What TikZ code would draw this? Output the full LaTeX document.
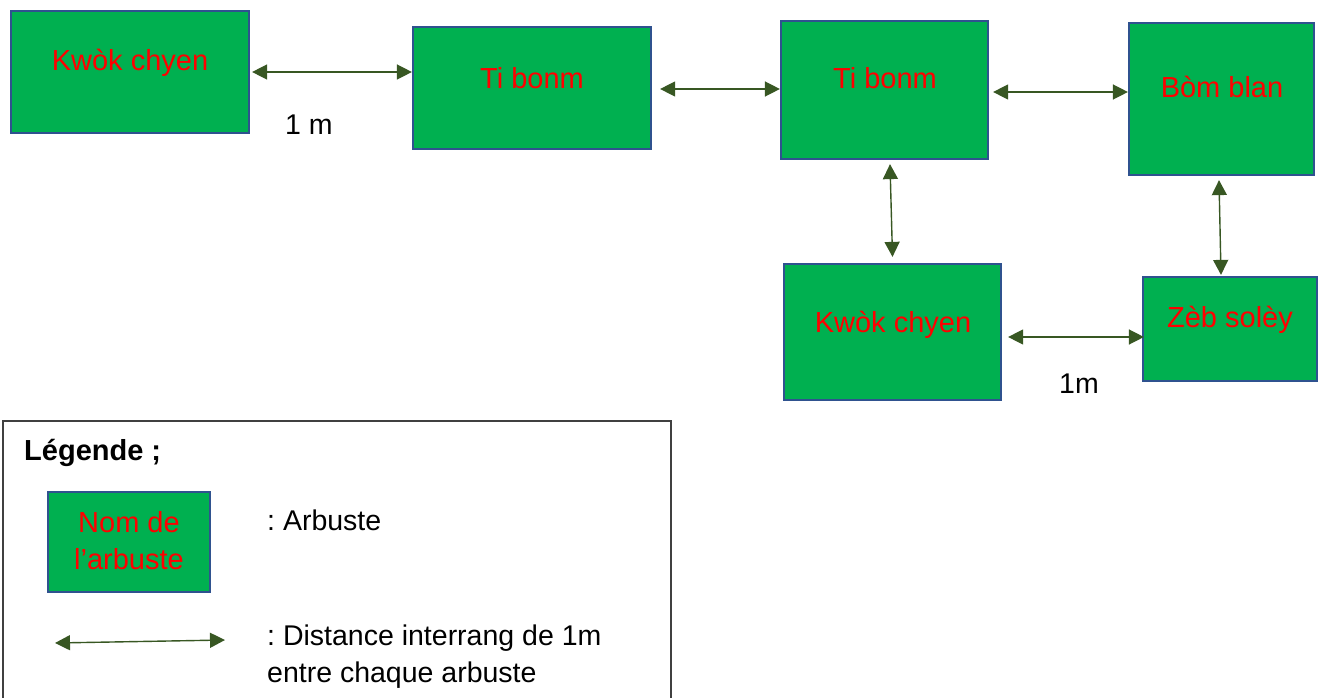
\documentclass[tikz,border=0pt]{standalone}
\usepackage{fontspec}
\setmainfont{Liberation Sans}
\usetikzlibrary{arrows.meta}
\definecolor{shrubgreen}{HTML}{00B050}
\definecolor{shrubedge}{HTML}{2F528F}
\definecolor{arrowgreen}{HTML}{385723}
\definecolor{framegray}{HTML}{404040}
\frenchspacing

\begin{document}
\begin{tikzpicture}[x=1pt,y=-1pt,
  shrub/.style={rectangle, draw=shrubedge, fill=shrubgreen, line width=2.2pt, inner sep=0pt},
  shrubname/.style={text=red, anchor=base, inner sep=0pt, font=\fontsize{29}{35}\selectfont},
  note/.style={anchor=base west, inner sep=0pt, font=\fontsize{28.5}{35}\selectfont},
  link/.style={draw=arrowgreen, line width=1.4pt,
    {Triangle[length=15pt,width=15pt]}-{Triangle[length=15pt,width=15pt]}}]

\useasboundingbox (0,0) rectangle (1324,698);

% planting row: shrubs
\node[shrub, minimum width=238pt, minimum height=122pt] (b1) at (130,72) {};
\node[shrub, minimum width=238pt, minimum height=122pt] (b2) at (532,88) {};
\node[shrub, minimum width=207pt, minimum height=138pt] (b3) at (884.5,90) {};
\node[shrub, minimum width=185pt, minimum height=152pt] (b4) at (1221.5,99) {};
\node[shrub, minimum width=217pt, minimum height=136pt] (b5) at (892.5,332) {};
\node[shrub, minimum width=174pt, minimum height=104pt] (b6) at (1230,329) {};

% shrub names
\node[shrubname] (t1) at (130,71) {Kwòk chyen};
\node[shrubname] (t2) at (532,89) {Ti bonm};
\node[shrubname] (t3) at (885,89) {Ti bonm};
\node[shrubname] (t4) at (1222,98) {Bòm blan};
\node[shrubname] (t5) at (893,332) {Kwòk chyen};
\node[shrubname] (t6) at (1230,327) {Zèb solèy};

% 1 m spacing between neighbours
\draw[link] ([xshift=2pt]b1.east) -- ([yshift=16pt]b2.west);
\draw[link] ([xshift=8pt,yshift=-1pt]b2.east) -- ([yshift=1pt]b3.west);
\draw[link] ([xshift=4pt,yshift=-2pt]b3.east) -- ([yshift=7pt]b4.west);
\draw[link] ([xshift=5.5pt,yshift=-4pt]b3.south) -- ([yshift=6pt]b5.north);
\draw[link] ([xshift=-2.5pt,yshift=-4pt]b4.south) -- ([xshift=-9pt,yshift=1pt]b6.north);
\draw[link] ([xshift=6pt,yshift=-5pt]b5.east) -- ([xshift=2pt,yshift=-8pt]b6.west);

\node[note] (d1) at (285,135) {1 m};
\node[note] (d2) at (1059,393) {1m};

% legend
\node[rectangle, draw=framegray, line width=1.3pt, minimum width=668pt, minimum height=282pt, inner sep=0pt] (legend) at (337,562) {};
\node[note, font=\bfseries\fontsize{29}{35}\selectfont] (ltitle) at (24,460) {Légende ;};
\node[shrub, minimum width=162pt, minimum height=100pt] (lshrub) at (129,542) {};
\node[shrubname] (lname1) at (129,532) {Nom de};
\node[shrubname] (lname2) at (129,569) {l’arbuste};
\node[note] (lshrubtext) at (267,530) {: Arbuste};
\coordinate (la) at (55,643);
\coordinate (lb) at (225,640);
\draw[link] (la) -- (lb);
\node[note] (llink1) at (267,645) {: Distance interrang de 1m};
\node[note] (llink2) at (267,682) {entre chaque arbuste};
\end{tikzpicture}
\end{document}
